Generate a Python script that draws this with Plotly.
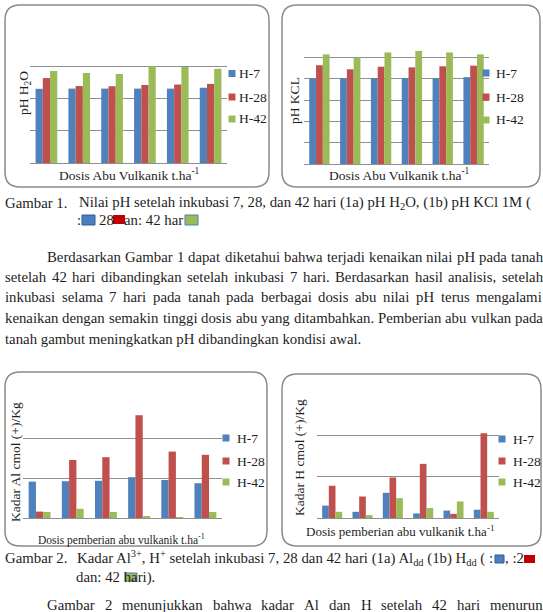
import plotly.graph_objects as go

W, H = 543, 612

# ---------------- data ----------------
DOSES = ["D0", "D1", "D2", "D3", "D4", "D5"]
SERIES = ["H-7", "H-28", "H-42"]

PH_H2O_H7 = [3.45, 3.46, 3.46, 3.46, 3.46, 3.50]
PH_H2O_H28 = [3.95, 3.58, 3.57, 3.63, 3.65, 3.68]
PH_H2O_H42 = [4.28, 4.19, 4.14, 4.50, 4.47, 4.38]

PH_KCL_H7 = [4.02, 4.02, 4.02, 4.02, 4.02, 4.07]
PH_KCL_H28 = [4.63, 4.44, 4.56, 4.53, 4.58, 4.61]
PH_KCL_H42 = [5.14, 5.00, 5.23, 5.30, 5.23, 5.14]

AL_H7 = [0.91, 0.92, 0.93, 1.02, 0.95, 0.87]
AL_H28 = [0.16, 1.45, 1.52, 2.57, 1.66, 1.58]
AL_H42 = [0.15, 0.23, 0.15, 0.05, 0.02, 0.15]

HDD_H7 = [0.30, 0.15, 0.61, 0.11, 0.18, 0.20]
HDD_H28 = [0.78, 0.52, 0.98, 1.31, 0.10, 2.05]
HDD_H42 = [0.15, 0.07, 0.48, 0.24, 0.40, 0.15]

# ---------------- styles ----------------
COLORS = ["#4F81BD", "#C0504D", "#9BBB59"]
GRID = "#8f8f8f"
TXT = "#1e1e1e"
SERIF = "Liberation Serif, Times New Roman, serif"
BODY = 14.8


def X(px):
    return px / W


def Y(py):
    return 1 - py / H


fig = go.Figure()

charts = [
    # (suffix, series values, x domain px, y domain px (top,bottom), range, dtick)
    ("", [PH_H2O_H7, PH_H2O_H28, PH_H2O_H42], (30, 227), (34, 163), 6, 1.5),
    ("2", [PH_KCL_H7, PH_KCL_H28, PH_KCL_H42], (304, 489), (36, 164), 6, 1),
    ("3", [AL_H7, AL_H28, AL_H42], (23, 222), (398, 518), 3, 1),
    ("4", [HDD_H7, HDD_H28, HDD_H42], (317, 499), (394, 518), 3, 1),
]

layout_axes = {}
for suf, vals, (xa, xb), (yt, yb), rmax, dt in charts:
    for name, v, c in zip(SERIES, vals, COLORS):
        fig.add_trace(go.Bar(
            x=DOSES, y=v, name=name, marker=dict(color=c, line=dict(width=0)),
            xaxis="x" + suf, yaxis="y" + suf, showlegend=False,
        ))
    layout_axes["xaxis" + suf] = dict(
        domain=[X(xa), X(xb)], anchor="y" + suf, showticklabels=False,
        showgrid=False, zeroline=False, showline=False, ticks="", fixedrange=True,
    )
    layout_axes["yaxis" + suf] = dict(
        domain=[Y(yb), Y(yt)], anchor="x" + suf, range=[0, rmax], dtick=dt,
        showticklabels=False, ticks="", showgrid=True, gridcolor=GRID, gridwidth=1,
        zeroline=True, zerolinecolor=GRID, zerolinewidth=1, showline=False,
        fixedrange=True,
    )

shapes = []
annotations = []


def rrect(x0, y0, x1, y1, r=15):
    pts = [
        ("M", (x0 + r, y0)), ("L", (x1 - r, y0)), ("Q", (x1, y0), (x1, y0 + r)),
        ("L", (x1, y1 - r)), ("Q", (x1, y1), (x1 - r, y1)), ("L", (x0 + r, y1)),
        ("Q", (x0, y1), (x0, y1 - r)), ("L", (x0, y0 + r)), ("Q", (x0, y0), (x0 + r, y0)),
    ]
    s = ""
    for item in pts:
        cmd = item[0]
        coords = " ".join(f"{X(p[0]):.5f},{Y(p[1]):.5f}" for p in item[1:])
        s += f"{cmd} {coords} "
    s += "Z"
    shapes.append(dict(type="path", path=s, xref="paper", yref="paper",
                       line=dict(color="#8a8a8a", width=1.5), fillcolor="rgba(0,0,0,0)",
                       layer="below"))


rrect(5, 5, 269, 187)
rrect(282, 5, 540, 187)
rrect(5, 372, 267, 546)
rrect(282, 374, 541, 546)


def text(x, y, s, size=BODY, xanchor="left", angle=0, color=TXT):
    annotations.append(dict(
        x=X(x), y=Y(y), xref="paper", yref="paper", text=s, showarrow=False,
        xanchor=xanchor, yanchor="middle", textangle=angle,
        font=dict(family=SERIF, size=size, color=color),
    ))


def square(x0, y0, x1, y1, color, outline=None):
    shapes.append(dict(type="rect", xref="paper", yref="paper",
                       x0=X(x0), x1=X(x1), y0=Y(y1), y1=Y(y0),
                       fillcolor=color,
                       line=dict(color=outline or color, width=1 if outline else 0)))


# legends (manual, to match the compact layout of the original)
legend_pos = [
    (232, 237, [73.5, 97, 119]),
    (486, 494, [73, 97, 120]),
    (226, 235, [438, 461, 482]),
    (502, 511, [439, 461, 482]),
]
for sx, tx, ys in legend_pos:
    for name, c, yy in zip(SERIES, COLORS, ys):
        square(sx - 3.5, yy - 3.5, sx + 3.5, yy + 3.5, c)
        text(tx, yy, name, size=13.5)

# axis titles
text(24, 93, "pH H<sub>2</sub>O", size=13.5, xanchor="center", angle=-90)
text(295, 100, "pH KCL", size=13.5, xanchor="center", angle=-90)
text(15, 462, "Kadar Al cmol (+)/Kg", size=13.5, xanchor="center", angle=-90)
text(299, 458, "Kadar H cmol (+)/Kg", size=13.5, xanchor="center", angle=-90)
text(129, 174, "Dosis Abu Vulkanik t.ha<sup>-1</sup>", size=13.5, xanchor="center")
text(399, 174, "Dosis Abu Vulkanik t.ha<sup>-1</sup>", size=13.5, xanchor="center")
text(121, 539, "Dosis pemberian abu vulkanik t.ha<sup>-1</sup>", size=11.5, xanchor="center")
text(400, 531, "Dosis pemberian abu vulkanik t.ha<sup>-1</sup>", size=13, xanchor="center")

# ---------------- document text ----------------
TIMES = {
    'a': 444, 'b': 500, 'c': 444, 'd': 500, 'e': 444, 'f': 333, 'g': 500, 'h': 500,
    'i': 278, 'j': 278, 'k': 500, 'l': 278, 'm': 778, 'n': 500, 'o': 500, 'p': 500,
    'q': 500, 'r': 333, 's': 389, 't': 278, 'u': 500, 'v': 500, 'w': 722, 'x': 500,
    'y': 500, 'z': 444, 'A': 722, 'B': 667, 'C': 667, 'D': 722, 'E': 611, 'F': 556,
    'G': 722, 'H': 722, 'I': 333, 'J': 389, 'K': 722, 'L': 611, 'M': 889, 'N': 722,
    'O': 722, 'P': 556, 'Q': 722, 'R': 667, 'S': 556, 'T': 611, 'U': 722, 'V': 722,
    'W': 944, 'X': 722, 'Y': 722, 'Z': 611, '.': 250, ',': 250, ':': 278, '(': 333,
    ')': 333, '-': 333, ' ': 250,
}


def tw(s, size=BODY):
    return sum(TIMES.get(ch, 500) for ch in s) / 1000 * size


def justify(line, x0, x1, y, size=BODY):
    words = line.split(" ")
    total = sum(tw(w, size) for w in words)
    gap = (x1 - x0 - total) / (len(words) - 1)
    x = x0
    for w in words:
        text(x, y, w, size)
        x += tw(w, size) + gap


# caption 1
text(3, 203, "Gambar 1.")
text(77, 203, "Nilai pH setelah inkubasi 7, 28, dan 42 hari (1a) pH H<sub>2</sub>O, (1b) pH KCl 1M (")
text(75, 220, ":")
text(97, 220, "28")
text(122, 220, "an: 42 har")
square(82, 215, 95, 225, "#4a7fc1", "#2f5f9a")
square(113, 215, 125, 224, "#c00000")
square(185, 215, 198, 225, "#9bbb59", "#4a7fc1")

# paragraph
justify("Berdasarkan Gambar 1 dapat diketahui bahwa terjadi kenaikan nilai pH pada tanah", 45, 541, 257)
justify("setelah 42 hari dibandingkan setelah inkubasi 7 hari. Berdasarkan hasil analisis, setelah", 3, 541, 277)
justify("inkubasi selama 7 hari pada tanah pada berbagai dosis abu nilai pH terus mengalami", 3, 540, 297)
justify("kenaikan dengan semakin tinggi dosis abu yang ditambahkan. Pemberian abu vulkan pada", 3, 541, 318)
text(3, 339, "tanah gambut meningkatkan pH dibandingkan kondisi awal.")

# caption 2
text(3, 558, "Gambar 2.")
text(75, 558, "Kadar Al<sup>3+</sup>, H<sup>+</sup> setelah inkubasi 7, 28 dan 42 hari (1a) Al<sub>dd</sub> (1b) H<sub>dd</sub> ( :")
text(503, 558, ", :2")
square(495, 555, 504, 563, "#4a7fc1", "#2f5f9a")
square(524, 555, 535, 563, "#c00000")
text(74, 577, "dan: 42 hari).")
square(125, 573, 137, 581, "#9bbb59", "#4a7fc1")

justify("Gambar 2 menunjukkan bahwa kadar Al dan H setelah 42 hari menurun", 45, 541, 605)

fig.update_layout(
    width=W, height=H, autosize=False,
    margin=dict(l=0, r=0, t=0, b=0),
    paper_bgcolor="white", plot_bgcolor="white",
    barmode="group", bargap=0.34, bargroupgap=0,
    showlegend=False,
    shapes=shapes, annotations=annotations,
    **layout_axes,
)

fig.write_html("out.html")
